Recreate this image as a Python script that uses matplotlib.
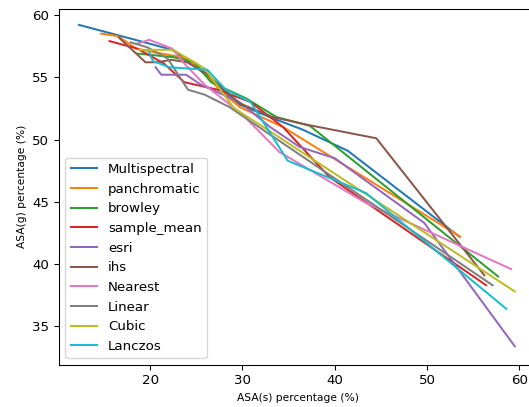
import matplotlib
matplotlib.use("Agg")
import matplotlib.pyplot as plt

# ---------------------------------------------------------
# Data
# ---------------------------------------------------------

labels = ["Multispectral", "panchromatic", "browley", "sample_mean", "esri",
          "ihs", "Nearest", "Linear", "Cubic", "Lanczos"]

multispectral_x = [12.3, 17.9, 22.4, 25.5, 29.7, 33.3, 36.5, 41.4, 53.5]
multispectral_y = [59.2, 58.1, 57.2, 55.5, 52.8, 51.7, 50.8, 49.1, 42.2]

panchromatic_x = [14.7, 16.5, 18.5, 20.5, 23.5, 25.5, 27.5, 29.7, 34.4, 53.6]
panchromatic_y = [58.5, 58.3, 57.3, 57.0, 56.6, 55.7, 54.0, 52.6, 51.0, 42.2]

browley_x = [18.6, 20.0, 22.6, 24.8, 26.6, 30.4, 33.7, 37.3, 57.7]
browley_y = [56.9, 56.8, 56.6, 56.2, 54.6, 53.3, 51.8, 51.1, 39.0]

sample_mean_x = [15.6, 18.6, 21.5, 23.7, 27.3, 30.9, 34.4, 39.4, 56.4]
sample_mean_y = [57.9, 57.3, 56.1, 54.6, 54.0, 53.0, 51.0, 47.0, 38.3]

esri_x = [20.6, 21.2, 23.9, 25.5, 29.7, 33.0, 36.2, 40.0, 49.7, 59.5]
esri_y = [55.8, 55.2, 55.2, 54.4, 53.0, 51.0, 49.4, 48.5, 43.3, 33.4]

ihs_x = [16.6, 19.5, 20.8, 22.3, 24.0, 26.1, 29.7, 33.3, 36.9, 44.5, 56.2]
ihs_y = [58.2, 56.2, 56.2, 56.4, 56.2, 55.3, 52.9, 51.8, 51.2, 50.1, 39.1]

nearest_x = [18.6, 19.9, 22.4, 23.7, 25.9, 27.1, 30.0, 34.0, 43.4, 59.1]
nearest_y = [57.7, 58.0, 57.3, 56.1, 54.4, 53.7, 52.0, 49.0, 44.9, 39.6]

linear_x = [17.9, 19.7, 21.9, 24.1, 25.9, 28.6, 57.1]
linear_y = [57.8, 57.4, 56.5, 54.0, 53.6, 52.6, 38.3]

cubic_x = [18.8, 22.5, 24.8, 25.9, 29.1, 32.7, 59.5]
cubic_y = [57.2, 57.2, 56.2, 55.7, 52.5, 50.8, 37.8]

lanczos_x = [19.9, 20.3, 22.1, 26.2, 28.2, 30.9, 34.9, 43.4, 58.6]
lanczos_y = [57.0, 56.3, 55.8, 55.6, 54.0, 53.0, 48.3, 45.7, 36.4]

series = [
    (multispectral_x, multispectral_y),
    (panchromatic_x, panchromatic_y),
    (browley_x, browley_y),
    (sample_mean_x, sample_mean_y),
    (esri_x, esri_y),
    (ihs_x, ihs_y),
    (nearest_x, nearest_y),
    (linear_x, linear_y),
    (cubic_x, cubic_y),
    (lanczos_x, lanczos_y),
]

x_ticks = [20, 30, 40, 50, 60]
y_ticks = [35, 40, 45, 50, 55, 60]

# ---------------------------------------------------------
# Plot
# ---------------------------------------------------------

fig = plt.figure(figsize=(529 / 96, 407 / 96), dpi=96)
# axes runs slightly past the right edge (reference is cropped there)
ax = fig.add_axes([0.111, 0.1032, 0.904, 0.8754])

for (xs, ys), name in zip(series, labels):
    ax.plot(xs, ys, linewidth=1.5, label=name)

ax.set_xlim(10.1, 61.9)
ax.set_ylim(31.9, 60.5)
ax.set_xticks(x_ticks)
ax.set_yticks(y_ticks)
ax.spines["right"].set_visible(False)

ax.set_xlabel("ASA(s) percentage (%)", fontsize=8)
ax.set_ylabel("ASA(g) percentage (%)", fontsize=8)

ax.legend(loc="lower left")

fig.savefig("out.png", dpi=96)
